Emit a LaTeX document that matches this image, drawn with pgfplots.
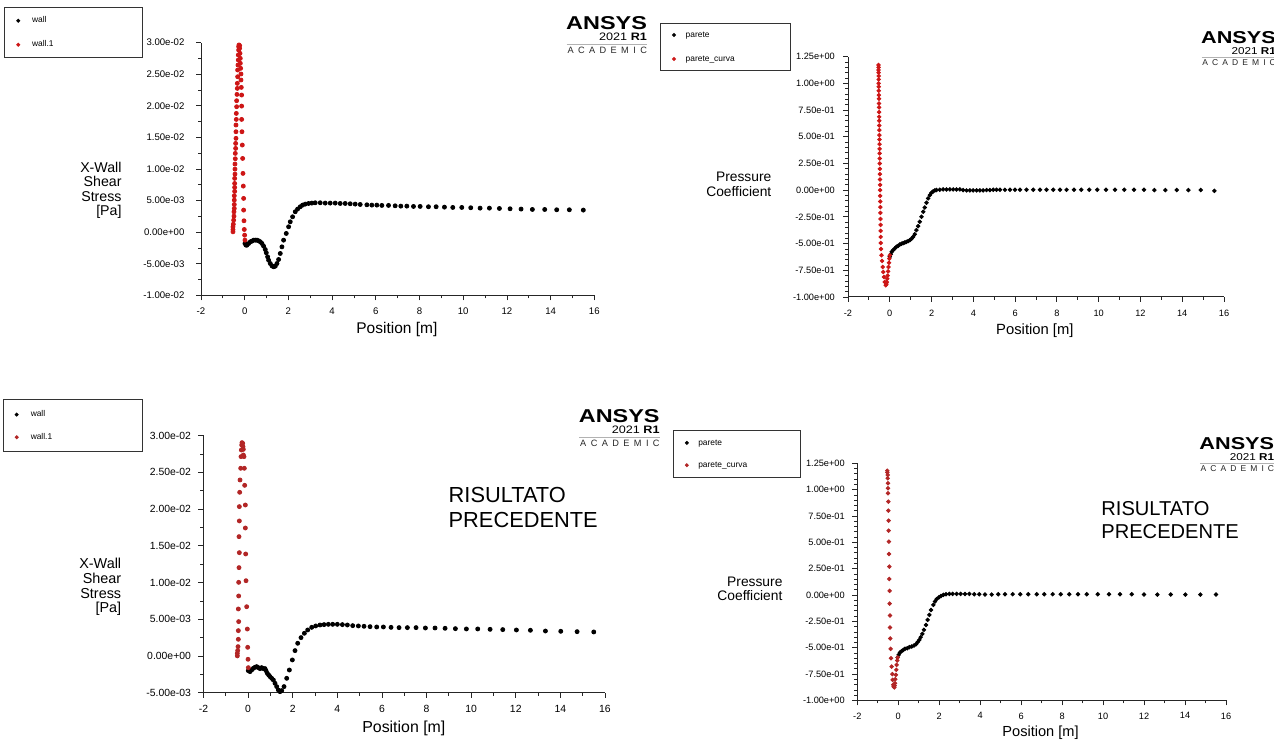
\documentclass[border=0pt]{standalone}
\usepackage{pgfplots}
\pgfplotsset{compat=1.18}
\usepackage{pgfplotstable}
\usepackage{graphicx}
\usepackage{fontspec}
\setmainfont{Liberation Sans}

\definecolor{newred}{RGB}{205,22,22}
\definecolor{oldred}{RGB}{178,38,38}

% ---------- current result: X-wall shear stress ----------
\pgfplotstableread{
x y
0.012 -1.80e-3
0.058 -2.06e-3
0.104 -2.06e-3
0.180 -1.80e-3
0.256 -1.53e-3
0.332 -1.43e-3
0.409 -1.27e-3
0.485 -1.27e-3
0.561 -1.27e-3
0.637 -1.37e-3
0.713 -1.53e-3
0.790 -1.80e-3
0.866 -2.22e-3
0.942 -2.75e-3
0.988 -3.27e-3
1.049 -3.91e-3
1.094 -4.44e-3
1.171 -4.97e-3
1.247 -5.34e-3
1.323 -5.49e-3
1.399 -5.39e-3
1.475 -4.97e-3
1.552 -4.33e-3
1.628 -3.38e-3
1.704 -2.33e-3
1.780 -1.27e-3
1.902 -0.21e-3
2.009 0.85e-3
2.085 1.64e-3
2.192 2.43e-3
2.314 3.23e-3
2.420 3.65e-3
2.542 4.02e-3
2.649 4.28e-3
2.771 4.44e-3
2.923 4.54e-3
3.075 4.60e-3
3.228 4.65e-3
3.457 4.65e-3
3.685 4.60e-3
3.914 4.60e-3
4.143 4.60e-3
4.371 4.54e-3
4.600 4.54e-3
4.829 4.49e-3
5.057 4.44e-3
5.286 4.38e-3
5.591 4.33e-3
5.819 4.28e-3
6.048 4.28e-3
6.277 4.23e-3
6.582 4.23e-3
6.886 4.17e-3
7.145 4.12e-3
7.420 4.12e-3
7.725 4.07e-3
8.029 4.07e-3
8.410 4.02e-3
8.761 4.02e-3
9.142 3.96e-3
9.523 3.91e-3
9.935 3.91e-3
10.346 3.86e-3
10.773 3.80e-3
11.200 3.80e-3
11.657 3.75e-3
12.145 3.70e-3
12.648 3.65e-3
13.166 3.59e-3
13.730 3.59e-3
14.279 3.54e-3
14.857 3.54e-3
15.497 3.49e-3
}\wallA

\pgfplotstableread{
x y
-0.536 0.05e-3
-0.536 0.41e-3
-0.536 0.84e-3
-0.521 1.26e-3
-0.506 1.90e-3
-0.491 2.53e-3
-0.491 3.22e-3
-0.476 3.75e-3
-0.476 4.38e-3
-0.476 5.07e-3
-0.476 5.76e-3
-0.460 6.45e-3
-0.460 7.08e-3
-0.460 7.71e-3
-0.460 8.51e-3
-0.445 9.19e-3
-0.445 9.98e-3
-0.445 10.78e-3
-0.430 11.62e-3
-0.430 12.47e-3
-0.415 13.26e-3
-0.415 14.05e-3
-0.399 14.85e-3
-0.399 15.90e-3
-0.399 16.96e-3
-0.384 17.85e-3
-0.384 18.80e-3
-0.369 19.86e-3
-0.369 20.81e-3
-0.354 21.81e-3
-0.338 22.76e-3
-0.338 23.56e-3
-0.323 24.61e-3
-0.323 25.67e-3
-0.308 26.46e-3
-0.293 27.26e-3
-0.293 28.05e-3
-0.277 28.84e-3
-0.277 29.37e-3
-0.262 29.64e-3
-0.232 29.53e-3
-0.232 29.11e-3
-0.216 28.31e-3
-0.201 27.52e-3
-0.201 26.73e-3
-0.186 25.94e-3
-0.171 25.04e-3
-0.171 24.09e-3
-0.155 22.92e-3
-0.140 21.71e-3
-0.140 19.96e-3
-0.140 17.85e-3
-0.125 15.90e-3
-0.110 13.79e-3
-0.094 11.67e-3
-0.079 9.30e-3
-0.064 7.29e-3
-0.049 5.34e-3
-0.049 3.49e-3
-0.033 1.80e-3
-0.018 0.42e-3
-0.003 -0.48e-3
0.012 -1.27e-3
}\wallB

% ---------- current result: pressure coefficient ----------
\pgfplotstableread{
x y
0.000 -0.624
0.048 -0.599
0.096 -0.577
0.160 -0.562
0.240 -0.546
0.319 -0.530
0.399 -0.521
0.479 -0.509
0.559 -0.502
0.639 -0.496
0.719 -0.490
0.799 -0.484
0.878 -0.477
0.958 -0.468
1.038 -0.455
1.118 -0.437
1.198 -0.412
1.278 -0.374
1.358 -0.337
1.437 -0.296
1.517 -0.249
1.597 -0.202
1.677 -0.162
1.757 -0.118
1.837 -0.077
1.917 -0.046
1.996 -0.024
2.076 -0.012
2.156 -0.002
2.236 0.001
2.396 0.004
2.555 0.007
2.715 0.007
2.875 0.007
3.035 0.007
3.194 0.007
3.354 0.007
3.514 0.001
3.673 -0.002
3.833 -0.002
3.993 -0.002
4.153 -0.002
4.312 -0.002
4.472 -0.002
4.632 0.001
4.792 0.001
4.951 0.004
5.111 0.004
5.271 0.004
5.510 0.004
5.750 0.004
5.990 0.004
6.229 0.004
6.549 0.004
6.868 0.004
7.187 0.004
7.507 0.004
7.826 0.004
8.146 0.004
8.465 0.004
8.817 0.004
9.168 0.004
9.551 0.004
9.934 0.004
10.350 0.004
10.781 0.004
11.228 0.004
11.691 0.004
12.171 0.004
12.666 0.001
13.193 0.001
13.736 0.001
14.295 0.001
14.886 0.001
15.540 -0.006
}\pareteA

\pgfplotstableread{
x y
-0.540 1.172
-0.539 1.150
-0.537 1.125
-0.535 1.100
-0.533 1.069
-0.531 1.037
-0.529 1.000
-0.527 0.969
-0.524 0.931
-0.522 0.891
-0.519 0.856
-0.516 0.8125
-0.514 0.775
-0.511 0.731
-0.508 0.687
-0.506 0.650
-0.503 0.606
-0.500 0.5625
-0.497 0.516
-0.494 0.475
-0.491 0.431
-0.488 0.387
-0.486 0.344
-0.482 0.297
-0.479 0.250
-0.476 0.200
-0.473 0.150
-0.469 0.100
-0.466 0.050
-0.463 0.000
-0.459 -0.053
-0.456 -0.106
-0.452 -0.159
-0.449 -0.2125
-0.445 -0.269
-0.441 -0.325
-0.438 -0.381
-0.434 -0.4375
-0.430 -0.494
-0.420 -0.550
-0.400 -0.609
-0.370 -0.6625
-0.340 -0.719
-0.310 -0.766
-0.280 -0.8125
-0.240 -0.859
-0.190 -0.890
-0.160 -0.880
-0.140 -0.860
-0.120 -0.830
-0.100 -0.800
-0.080 -0.760
-0.060 -0.720
-0.040 -0.680
-0.020 -0.640
0.000 -0.610
}\pareteB

% ---------- previous result: X-wall shear stress ----------
\pgfplotstableread{
x y
0.010 -2.00e-3
0.085 -2.13e-3
0.160 -1.91e-3
0.235 -1.68e-3
0.309 -1.54e-3
0.384 -1.45e-3
0.459 -1.59e-3
0.534 -1.72e-3
0.608 -1.59e-3
0.683 -1.72e-3
0.758 -1.72e-3
0.803 -2.00e-3
0.862 -2.36e-3
0.922 -2.59e-3
0.982 -2.81e-3
1.057 -3.04e-3
1.132 -3.27e-3
1.206 -3.72e-3
1.281 -4.17e-3
1.356 -4.63e-3
1.430 -4.86e-3
1.505 -4.72e-3
1.610 -4.17e-3
1.730 -3.04e-3
1.849 -1.91e-3
1.983 -0.54e-3
2.103 0.73e-3
2.223 1.73e-3
2.372 2.50e-3
2.522 3.09e-3
2.671 3.54e-3
2.851 3.90e-3
3.030 4.09e-3
3.224 4.22e-3
3.404 4.27e-3
3.598 4.31e-3
3.792 4.31e-3
4.001 4.31e-3
4.226 4.27e-3
4.450 4.22e-3
4.689 4.13e-3
4.943 4.09e-3
5.197 4.04e-3
5.466 3.99e-3
5.765 3.95e-3
6.064 3.95e-3
6.408 3.90e-3
6.767 3.86e-3
7.140 3.86e-3
7.529 3.86e-3
7.948 3.81e-3
8.381 3.81e-3
8.830 3.77e-3
9.293 3.72e-3
9.786 3.68e-3
10.294 3.68e-3
10.848 3.63e-3
11.416 3.59e-3
12.028 3.54e-3
12.656 3.50e-3
13.329 3.40e-3
14.017 3.36e-3
14.749 3.31e-3
15.496 3.27e-3
}\oldwallA

\pgfplotstableread{
x y
-0.483 0.01e-3
-0.483 0.36e-3
-0.468 0.73e-3
-0.453 1.27e-3
-0.438 2.27e-3
-0.438 3.45e-3
-0.423 4.68e-3
-0.438 6.40e-3
-0.423 8.17e-3
-0.423 10.03e-3
-0.408 12.03e-3
-0.393 14.07e-3
-0.408 16.25e-3
-0.393 18.39e-3
-0.393 20.34e-3
-0.378 22.29e-3
-0.363 23.97e-3
-0.333 25.56e-3
-0.318 27.15e-3
-0.304 28.05e-3
-0.288 28.73e-3
-0.274 29.05e-3
-0.244 28.96e-3
-0.229 28.51e-3
-0.214 28.14e-3
-0.214 27.37e-3
-0.184 27.15e-3
-0.169 25.56e-3
-0.154 23.24e-3
-0.124 20.56e-3
-0.124 17.43e-3
-0.109 13.89e-3
-0.094 10.25e-3
-0.064 6.71e-3
-0.035 3.67e-3
-0.019 1.18e-3
-0.004 -0.45e-3
0.010 -1.59e-3
}\oldwallB

% ---------- previous result: pressure coefficient ----------
\pgfplotstableread{
x y
-0.031 -0.592
0.018 -0.567
0.083 -0.545
0.165 -0.532
0.246 -0.520
0.327 -0.510
0.441 -0.504
0.539 -0.494
0.653 -0.488
0.767 -0.479
0.864 -0.466
0.946 -0.447
1.027 -0.425
1.092 -0.400
1.173 -0.368
1.255 -0.330
1.353 -0.283
1.434 -0.235
1.515 -0.188
1.597 -0.141
1.711 -0.093
1.792 -0.062
1.873 -0.039
1.987 -0.020
2.085 -0.008
2.199 0.002
2.329 0.008
2.492 0.011
2.655 0.011
2.850 0.011
3.045 0.011
3.257 0.011
3.468 0.011
3.712 0.008
3.957 0.008
4.233 0.005
4.559 0.005
4.884 0.008
5.210 0.008
5.584 0.008
5.958 0.008
6.349 0.008
6.756 0.008
7.130 0.008
7.537 0.008
7.928 0.008
8.351 0.008
8.774 0.008
9.198 0.008
9.735 0.008
10.288 0.008
10.825 0.008
11.395 0.008
11.997 0.005
12.648 0.005
13.299 0.005
14.015 0.005
14.748 0.005
15.513 0.005
}\oldpareteA

\pgfplotstableread{
x y
-0.536 1.180
-0.536 1.164
-0.519 1.139
-0.519 1.108
-0.503 1.060
-0.503 1.013
-0.503 0.965
-0.487 0.886
-0.487 0.801
-0.470 0.706
-0.470 0.611
-0.454 0.507
-0.454 0.390
-0.438 0.270
-0.438 0.153
-0.421 0.040
-0.421 -0.081
-0.405 -0.194
-0.405 -0.308
-0.389 -0.412
-0.373 -0.510
-0.356 -0.599
-0.324 -0.678
-0.291 -0.750
-0.275 -0.804
-0.243 -0.851
-0.226 -0.868
-0.194 -0.876
-0.178 -0.860
-0.161 -0.836
-0.145 -0.798
-0.112 -0.757
-0.096 -0.709
-0.080 -0.662
-0.047 -0.621
-0.031 -0.592
}\oldpareteB

\pgfplotsset{
  ansys/.style={
    scale only axis, anchor=south west,
    axis lines=left, axis line style={-, line width=0.5pt, black!85},
    tick align=outside, major tick length=2.5pt, minor tick length=1.5pt,
    every tick/.append style={black!85, line width=0.4pt},
    xmin=-2, xmax=16,
    xtick={-2,0,2,4,6,8,10,12,14,16},
    xticklabels={-2,0,2,4,6,8,10,12,14,16},
    minor x tick num=1,
    scaled ticks=false, clip=false,
    /pgf/number format/assume math mode=true,
    xlabel={Position [m]},
    legend cell align=left,
    legend image code/.code={\draw[##1, mark size=0.7pt] plot coordinates {(0pt,0pt)};},
  },
  wssaxis/.style={
    ylabel={X-Wall\\Shear\\Stress\\{}[Pa]},
    yticklabels={-1.00e-02,-5.00e-03,0.00e+00,5.00e-03,1.00e-02,1.50e-02,2.00e-02,2.50e-02,3.00e-02},
    minor y tick num=1,
  },
  cpaxis/.style={
    ylabel={Pressure\\Coefficient},
    ymin=-1, ymax=1.25,
    ytick={-1,-0.75,-0.5,-0.25,0,0.25,0.5,0.75,1,1.25},
    yticklabels={-1.00e+00,-7.50e-01,-5.00e-01,-2.50e-01,0.00e+00,2.50e-01,5.00e-01,7.50e-01,1.00e+00,1.25e+00},
    minor y tick num=4,
  },
  legbox/.style n args={4}{% width of text cell, column gap, outer y sep, row gap
    legend style={at={(axis description cs:-0.5,1.141)}, anchor=north west,
      draw=black!80, line width=0.5pt, fill=white,
      inner xsep=6pt, inner ysep=#3, row sep=#4, column sep=#2,
      font=\fontsize{4.2}{5}\selectfont,
      nodes={inner sep=0.5pt, text height=3.2pt, text depth=1pt}},
  },
}

% ANSYS badge: right edge x, baseline of the word, scale
\newcommand\ansyslogo[3]{%
  \begin{scope}[shift={(#1,#2)}, scale=#3, every node/.style={inner sep=0pt, transform shape}]
    \node[anchor=base east] at (0,0) {\fontsize{9.3}{10}\selectfont\bfseries\scalebox{1.26}[1]{ANSYS}};
    \node[anchor=base east] at (0,11) {\fontsize{5.4}{6}\selectfont\scalebox{1.17}[1]{2021 \textbf{R1}}};
    \draw[black!30, line width=0.4pt] (-80.6,14.3) -- (0,14.3);
    \node[anchor=base east, text=black!85] at (0,23.3) {\fontsize{4.6}{5}\selectfont A\kern2.2pt C\kern2.2pt A\kern2.2pt D\kern2.2pt E\kern2.2pt M\kern2.2pt I\kern2.2pt C};
  \end{scope}}

\begin{document}
\begin{tikzpicture}
\path[use as bounding box] (0pt,0pt) rectangle (637pt,373.5pt);

% ---- top left: shear stress, current ----
\begin{axis}[ansys, wssaxis, legbox={48.5pt}{5.7pt}{4pt}{6.8pt},
  at={(100.5pt,225.85pt)}, width=196.65pt, height=126.3pt,
  ymin=-0.01, ymax=0.03,
  ytick={-0.01,-0.005,0,0.005,0.01,0.015,0.02,0.025,0.03},
  tick label style={font=\fontsize{4.8}{6}\selectfont},
  yticklabel style={inner xsep=5.6pt}, xticklabel style={inner ysep=3.4pt},
  every axis x label/.style={at={(axis description cs:0.498,-0.137)}, anchor=center, font=\fontsize{7.75}{9}\selectfont},
  every axis y label/.style={at={(axis description cs:-0.201,0.415)}, anchor=east, align=right, inner sep=0pt, font=\fontsize{7.1}{7.2}\selectfont},
]
\addplot[only marks, mark=*, mark size=1pt, black] table {\wallA};
\addlegendentry{\makebox[48.5pt][l]{wall}}
\addplot[only marks, mark=*, mark size=1pt, newred] table {\wallB};
\addlegendentry{\makebox[48.5pt][l]{wall.1}}
\end{axis}

% ---- top right: pressure coefficient, current ----
\begin{axis}[ansys, cpaxis, legbox={45.8pt}{4.7pt}{3.25pt}{6.8pt},
  at={(424pt,225pt)}, width=188pt, height=120.15pt,
  tick label style={font=\fontsize{4.6}{5.5}\selectfont},
  yticklabel style={inner xsep=3.9pt}, xticklabel style={inner ysep=3.7pt},
  every axis x label/.style={at={(axis description cs:0.497,-0.141)}, anchor=center, font=\fontsize{7.4}{9}\selectfont},
  every axis y label/.style={at={(axis description cs:-0.203,0.468)}, anchor=east, align=right, inner sep=0pt, font=\fontsize{6.9}{7.2}\selectfont},
]
\addplot[only marks, mark=*, mark size=0.9pt, black] table {\pareteA};
\addlegendentry{\makebox[45.8pt][l]{parete}}
\addplot[only marks, mark=*, mark size=0.9pt, newred] table {\pareteB};
\addlegendentry{\makebox[45.8pt][l]{parete\_curva}}
\end{axis}

% ---- bottom left: shear stress, previous ----
\begin{axis}[ansys, wssaxis, legbox={49.35pt}{5.85pt}{4.7pt}{6.15pt},
  at={(101.75pt,27.15pt)}, width=200.75pt, height=128.5pt,
  ymin=-0.005, ymax=0.03,
  ytick={-0.005,0,0.005,0.01,0.015,0.02,0.025,0.03},
  yticklabels={-5.00e-03,0.00e+00,5.00e-03,1.00e-02,1.50e-02,2.00e-02,2.50e-02,3.00e-02},
  tick label style={font=\fontsize{5.2}{6}\selectfont},
  yticklabel style={inner xsep=3.6pt}, xticklabel style={inner ysep=3.44pt},
  every axis x label/.style={at={(axis description cs:0.499,-0.139)}, anchor=center, font=\fontsize{7.95}{9}\selectfont},
  every axis y label/.style={at={(axis description cs:-0.204,0.411)}, anchor=east, align=right, inner sep=0pt, font=\fontsize{7.2}{7.3}\selectfont},
]
\addplot[only marks, mark=*, mark size=1pt, black] table {\oldwallA};
\addlegendentry{\makebox[49.35pt][l]{wall}}
\addplot[only marks, mark=*, mark size=1pt, oldred] table {\oldwallB};
\addlegendentry{\makebox[49.35pt][l]{wall.1}}
\end{axis}

% ---- bottom right: pressure coefficient, previous ----
\begin{axis}[ansys, cpaxis, legbox={44.7pt}{4.5pt}{3.7pt}{5.95pt},
  at={(428.65pt,23.25pt)}, width=184.35pt, height=118.6pt,
  tick label style={font=\fontsize{4.6}{5.5}\selectfont},
  yticklabel style={inner xsep=3.6pt}, xticklabel style={inner ysep=3.35pt},
  every axis x label/.style={at={(axis description cs:0.497,-0.138)}, anchor=center, font=\fontsize{7.3}{9}\selectfont},
  every axis y label/.style={at={(axis description cs:-0.202,0.470)}, anchor=east, align=right, inner sep=0pt, font=\fontsize{6.9}{6.7}\selectfont},
]
\addplot[only marks, mark=*, mark size=0.9pt, black] table {\oldpareteA};
\addlegendentry{\makebox[44.7pt][l]{parete}}
\addplot[only marks, mark=*, mark size=0.9pt, oldred] table {\oldpareteB};
\addlegendentry{\makebox[44.7pt][l]{parete\_curva}}
\end{axis}

% ---- badges and notes, placed in pixel-like units from the top left ----
\begin{scope}[x=0.5pt, y=-0.5pt, shift={(0pt,373.5pt)}]
  \ansyslogo{647.3}{30}{1}
  \ansyslogo{1276.2}{44}{0.925}
  \ansyslogo{660}{423}{1}
  \ansyslogo{1274.5}{450}{0.925}
  \node[anchor=base west, inner sep=0pt, font=\fontsize{10.9}{12}\selectfont] at (448.3,502.7) {RISULTATO};
  \node[anchor=base west, inner sep=0pt, font=\fontsize{10.9}{12}\selectfont] at (448.3,527.3) {PRECEDENTE};
  \node[anchor=base west, inner sep=0pt, font=\fontsize{10.05}{11}\selectfont] at (1101,515.7) {RISULTATO};
  \node[anchor=base west, inner sep=0pt, font=\fontsize{10.05}{11}\selectfont] at (1101,538.3) {PRECEDENTE};
\end{scope}
\end{tikzpicture}
\end{document}
